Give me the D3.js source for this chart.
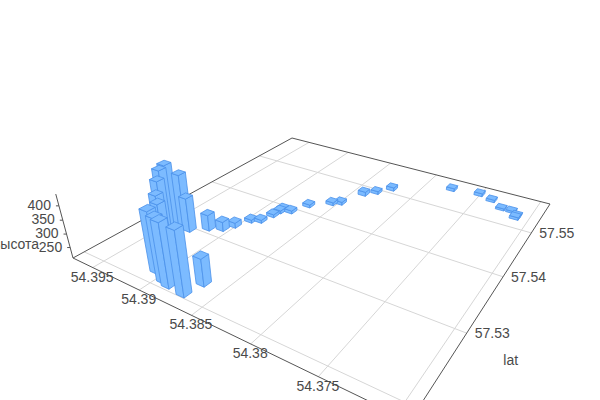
<!DOCTYPE html><html><head><meta charset="utf-8"><style>body{margin:0;background:#fff}text{font-family:"Liberation Sans",Arial,sans-serif;font-size:14px;fill:#4a4a4a}</style><script src="https://cdn.jsdelivr.net/npm/d3@7"></script></head><body><svg id="c" width="600" height="400"></svg><script>
const lons=[54.3871,54.3887,54.3907,54.3894,54.3937,54.3929,54.3948,54.3948,54.3939,54.3935,54.3923,54.3868,54.3917,54.3907,54.3902,54.3896,54.3889,54.3886,54.3885,54.3885,54.3877,54.3870,54.3855,54.3849,54.3840,54.3832,54.3823,54.3776,54.3751,54.3738,54.3726,54.3717,54.3711,54.3711];
const lats=[57.5206,57.5208,57.5219,57.5211,57.5300,57.5296,57.5295,57.5287,57.5272,57.5263,57.5250,57.5229,57.5310,57.5318,57.5331,57.5350,57.5356,57.5374,57.5386,57.5392,57.5393,57.5417,57.5437,57.5444,57.5480,57.5493,57.5512,57.5553,57.5559,57.5552,57.5538,57.5538,57.5531,57.5525];
const heights=[439,438,430,436,411,339,440,431,421,387,389,310,271,246,230,222,222,222,222,222,222,222,222,222,227,222,224,222,222,220,218,218,218,220];
const lonTicks=[54.395,54.39,54.385,54.38,54.375,54.37];
const latTicks=[57.53,57.54,57.55];
const zTicks=[250,300,350,400];
const lonLabels=["54.395","54.39","54.385","54.38","54.375"];
const latLabels=["57.53","57.54","57.55"];

const uS=d3.scaleLinear().domain([54.3973,54.3692]).range([0,1]);
const vS=d3.scaleLinear().domain([57.5186,57.5581]).range([0,1]);
const wS=d3.scaleLinear().domain([210,440]).range([0,-0.0706]);
const corners=[[73,258],[410,421],[550,204],[292,138]];
const VX=300,VY=1100;
function homography(q){const [x0,y0]=q[0],[x1,y1]=q[1],[x2,y2]=q[2],[x3,y3]=q[3];
 const a=x1-x2,b=x3-x2,sx=x0-x1+x2-x3,c=y1-y2,d=y3-y2,sy=y0-y1+y2-y3,D=a*d-b*c,g=(sx*d-b*sy)/D,h=(a*sy-sx*c)/D;
 return [x1-x0+g*x1,x3-x0+h*x3,x0,y1-y0+g*y1,y3-y0+h*y3,y0,g,h];}
const M=homography(corners);
function project(u,v,w=0){const d=M[6]*u+M[7]*v+1+w;return [(M[0]*u+M[1]*v+M[2]+w*VX)/d,(M[3]*u+M[4]*v+M[5]+w*VY)/d];}
const depth=(u,v)=>M[6]*u+M[7]*v+1;
const svg=d3.select("#c");
const line=d3.line();
const gridCol="#d6d6d6",axisCol="#555";
const grid=svg.append("g").attr("fill","none").attr("stroke",gridCol);
grid.selectAll(".a").data(lonTicks).join("path").attr("d",t=>line([project(uS(t),0),project(uS(t),1)]));
grid.selectAll(".b").data(latTicks.concat([57.52])).join("path").attr("d",t=>line([project(0,vS(t)),project(1,vS(t))]));
const ax=svg.append("g").attr("fill","none").attr("stroke",axisCol);
ax.append("path").attr("d",line([project(0,0),project(1,0),project(1,1),project(0,1),project(0,0)]));
ax.append("path").attr("d",line([project(0,0),project(0,0,wS.range()[1])]));
ax.selectAll(".t").data(zTicks).join("path").attr("d",t=>{const p=project(0,0,wS(t));return line([p,[p[0]-3,p[1]]]);});
// bars
const du=0.0135,dv=0.0135;
const rows=lons.map((l,i)=>({u:uS(l),v:vS(lats[i]),w:wS(heights[i])})).sort((a,b)=>depth(b.u,b.v)-depth(a.u,a.v));
const g=svg.selectAll(".bar").data(rows).join("g").attr("stroke","#4a90ea").attr("stroke-width",0.8).attr("stroke-linejoin","round").attr("fill","#7cbbff");
g.append("path").attr("d",r=>{const a=project(r.u-du,r.v-dv),b=project(r.u+du,r.v-dv),c=project(r.u+du,r.v-dv,r.w),e=project(r.u-du,r.v-dv,r.w);return line([a,b,c,e])+"Z";});
g.append("path").attr("d",r=>{const a=project(r.u+du,r.v-dv),b=project(r.u+du,r.v+dv),c=project(r.u+du,r.v+dv,r.w),e=project(r.u+du,r.v-dv,r.w);return line([a,b,c,e])+"Z";});
g.append("path").attr("d",r=>line([project(r.u-du,r.v-dv,r.w),project(r.u+du,r.v-dv,r.w),project(r.u+du,r.v+dv,r.w),project(r.u-du,r.v+dv,r.w)])+"Z");
// labels
lonLabels.forEach((s,i)=>{const p=project(uS(lonTicks[i]),0);svg.append("text").attr("x",p[0]-0.5).attr("y",p[1]+10.5).attr("text-anchor","middle").attr("dominant-baseline","middle").text(s);});
latLabels.forEach((s,i)=>{const p=project(1,vS(latTicks[i]));svg.append("text").attr("x",p[0]+8).attr("y",p[1]+1.5).attr("text-anchor","start").attr("dominant-baseline","middle").text(s);});
zTicks.forEach(t=>{const p=project(0,0,wS(t));svg.append("text").attr("x",p[0]-8).attr("y",p[1]+0.5).attr("text-anchor","end").attr("dominant-baseline","middle").text(t);});
const zm=project(0,0,wS(320));
svg.append("text").attr("x",zm[0]-26).attr("y",zm[1]+16.5).attr("text-anchor","end").attr("dominant-baseline","middle").text("высота");
const lm=project(1,vS(57.53));
svg.append("text").attr("x",lm[0]+44).attr("y",lm[1]+28).attr("text-anchor","middle").attr("dominant-baseline","middle").text("lat");
</script></body></html>
